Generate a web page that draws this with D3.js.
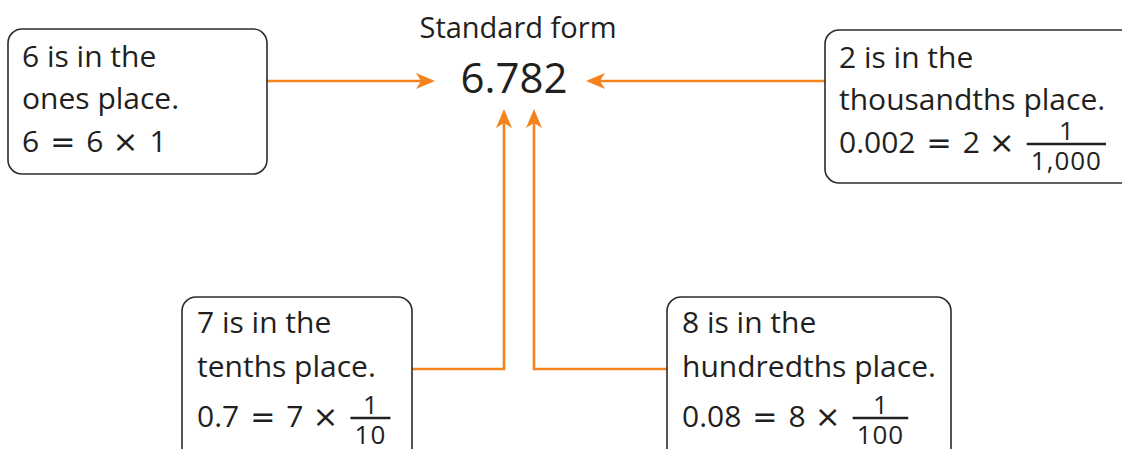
<!DOCTYPE html>
<html>
<head>
<meta charset="utf-8">
<script src="https://cdn.jsdelivr.net/npm/d3@7"></script>
<style>
  html, body { margin: 0; padding: 0; background: #fff; overflow: hidden; }
  svg { display: block; font-family: "Open Sans", sans-serif; }
</style>
</head>
<body>
<div id="chart"></div>
<script>
// Diagram content
const titleText  = "Standard form";
const numberText = "6.782";

const digits     = ["6", "2", "7", "8"];
const placeNames = ["ones", "thousandths", "tenths", "hundredths"];
const lhsTexts   = ["6 = 6 × 1", "0.002 = 2 ×", "0.7 = 7 ×", "0.08 = 8 ×"];
const fracNums   = [null, "1", "1", "1"];
const fracDens   = [null, "1,000", "10", "100"];

// Layout (kept apart from the content above)
const width = 1122, height = 449;
const ink = '#231f20', orange = '#f4821f';
const boxFont = 30, fracFont = 26;
const topLines = [38, 80, 123], bottomLines = [36, 80, 130];

const boxes = [
  { x: 8,   y: 29,  w: 259, h: 145, tx: 22,  lines: topLines,    side: 'right', cy: 81,  tip: [435, 81] },
  { x: 825, y: 30,  w: 320, h: 153, tx: 839, lines: topLines,    side: 'left',  cy: 81,  tip: [586, 81] },
  { x: 182, y: 297, w: 230, h: 200, tx: 197, lines: bottomLines, side: 'right', cy: 369, tip: [504, 109] },
  { x: 667, y: 297, w: 284, h: 200, tx: 682, lines: bottomLines, side: 'left',  cy: 369, tip: [534, 109] }
];

const svg = d3.select('#chart')
  .append('svg')
    .attr('width', width)
    .attr('height', height);

// Title & number
svg.append('text')
  .attr('x', 518).attr('y', 38)
  .attr('text-anchor', 'middle')
  .attr('font-size', 29)
  .attr('fill', ink)
  .text(titleText);

svg.append('text')
  .attr('x', 514).attr('y', 93)
  .attr('text-anchor', 'middle')
  .attr('font-size', 42)
  .attr('fill', ink)
  .text(numberText);

// Connectors
const conn = svg.append('g');
boxes.forEach(b => {
  const start = b.side === 'right' ? [b.x + b.w, b.cy] : [b.x, b.cy];
  const pts = b.tip[1] === b.cy ? [start, b.tip] : [start, [b.tip[0], b.cy], b.tip];
  const last = pts[pts.length - 1], prev = pts[pts.length - 2];
  const dx = Math.sign(last[0] - prev[0]), dy = Math.sign(last[1] - prev[1]);
  const linePts = pts.slice(0, -1).concat([[last[0] - dx * 10, last[1] - dy * 10]]);
  conn.append('path')
    .attr('d', d3.line()(linePts))
    .attr('fill', 'none')
    .attr('stroke', orange)
    .attr('stroke-width', 2.6);
  const ang = Math.atan2(dy, dx) * 180 / Math.PI;
  conn.append('path')
    .attr('d', 'M0,0 L-19,-8 L-14,0 L-19,8 Z')
    .attr('fill', orange)
    .attr('transform', `translate(${last[0]},${last[1]}) rotate(${ang})`);
});

// Boxes
const g = svg.selectAll('g.box')
  .data(boxes)
  .join('g')
    .attr('class', 'box');

g.append('rect')
  .attr('x', d => d.x).attr('y', d => d.y)
  .attr('width', d => d.w).attr('height', d => d.h)
  .attr('rx', 14)
  .attr('fill', '#fff')
  .attr('stroke', '#2b2b2b')
  .attr('stroke-width', 1.6);

const ops = { '=': { size: 30, pad: 11 }, '×': { size: 31, pad: 9 } };

g.each(function(d, i) {
  const sel = d3.select(this);
  const lines = [`${digits[i]} is in the`, `${placeNames[i]} place.`];
  lines.forEach((t, k) => {
    sel.append('text')
      .attr('x', d.tx).attr('y', d.y + d.lines[k])
      .attr('font-size', boxFont)
      .attr('fill', ink)
      .text(t);
  });

  // equation, with wide math operators
  const eqY = d.y + d.lines[2];
  const eq = sel.append('text')
    .attr('x', d.tx).attr('y', eqY)
    .attr('font-size', boxFont)
    .attr('fill', ink);
  lhsTexts[i].split(' ').forEach((tok, k) => {
    const op = ops[tok];
    const ts = eq.append('tspan').text(tok);
    if (op) {
      ts.attr('font-family', 'DejaVu Sans').attr('font-size', op.size).attr('dx', op.pad);
    } else if (k > 0) {
      ts.attr('dx', 11);
    }
  });

  if (fracNums[i]) {
    const bb = eq.node().getBBox();
    const barX0 = bb.x + bb.width + 12;
    const den = sel.append('text')
      .attr('y', eqY + 17)
      .attr('text-anchor', 'middle')
      .attr('font-size', fracFont)
      .attr('letter-spacing', 1)
      .attr('fill', ink)
      .text(fracDens[i]);
    const denW = den.node().getComputedTextLength();
    const barW = Math.max(denW + 8, 40);
    const cx = barX0 + barW / 2;
    den.attr('x', cx);
    const barY = eqY - 9;
    sel.append('line')
      .attr('x1', barX0).attr('x2', barX0 + barW)
      .attr('y1', barY).attr('y2', barY)
      .attr('stroke', ink).attr('stroke-width', 2.4);
    sel.append('text')
      .attr('x', cx).attr('y', barY - 4)
      .attr('text-anchor', 'middle')
      .attr('font-size', fracFont)
      .attr('fill', ink)
      .text(fracNums[i]);
  }
});
</script>
</body>
</html>
